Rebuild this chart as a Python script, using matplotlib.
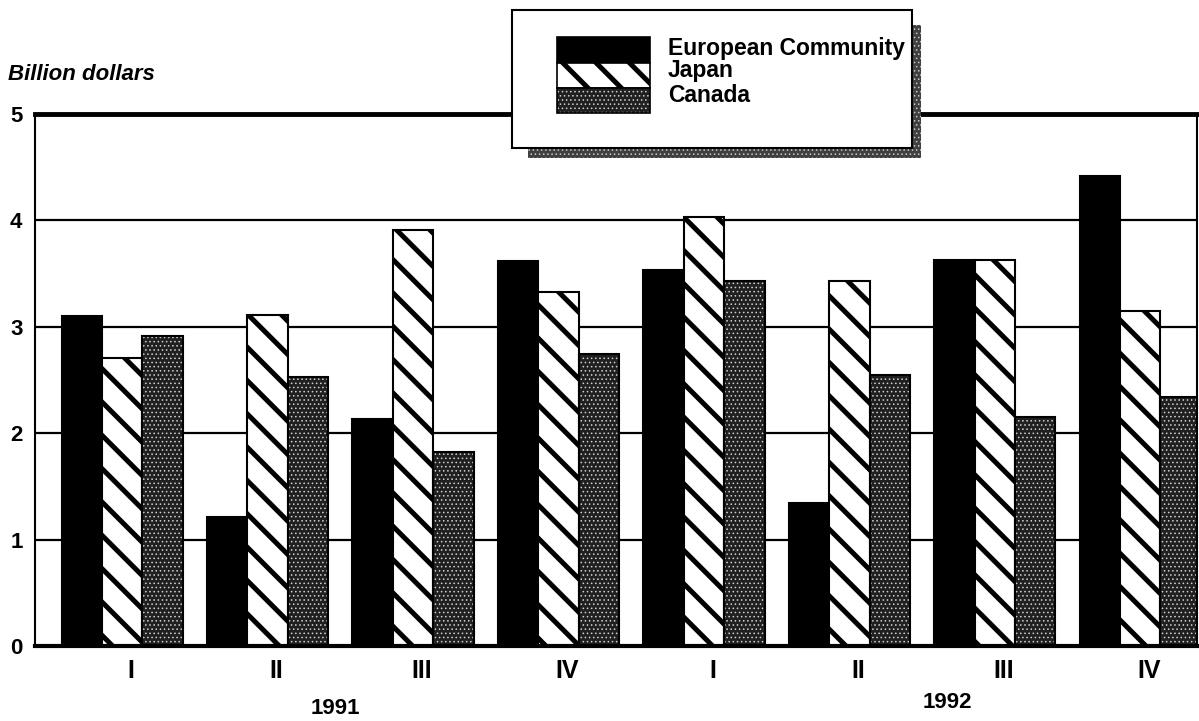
import matplotlib
matplotlib.use("Agg")
import matplotlib.pyplot as plt
from matplotlib.patches import Rectangle
import numpy as np

quarters = ["I", "II", "III", "IV", "I", "II", "III", "IV"]
years = ["1991", "1992"]
series_names = ["European Community", "Japan", "Canada"]
ec = [3.10, 1.21, 2.13, 3.62, 3.53, 1.34, 3.63, 4.42]
japan = [2.71, 3.11, 3.91, 3.33, 4.03, 3.43, 3.63, 3.15]
canada = [2.91, 2.53, 1.82, 2.74, 3.43, 2.55, 2.15, 2.34]
yticks = [0, 1, 2, 3, 4, 5]

plt.rcParams['font.family'] = ['Liberation Sans', 'DejaVu Sans']

STRIPE_LW = 3.6
DOT_LW = 0.6
DOT_FACE = '#202020'
DOT_COLOR = '#d0d0d0'

fig = plt.figure(figsize=(11.99, 7.21), dpi=100)
ax = fig.add_axes([35/1199, 75/721, (1197-35)/1199, (646-114)/721])

x = np.arange(len(quarters))
w = 0.278
for yv in yticks[1:5]:
    ax.axhline(yv, color='black', lw=1.6, zorder=0)

ax.bar(x - w, ec, width=w, color='black', edgecolor='black', lw=1.5, zorder=2)
with plt.rc_context({'hatch.linewidth': STRIPE_LW}):
    ax.bar(x, japan, width=w, color='white', edgecolor='black', hatch='\\', lw=1.5, zorder=2)
with plt.rc_context({'hatch.linewidth': DOT_LW}):
    ax.bar(x + w, canada, width=w, color=DOT_FACE, edgecolor=DOT_COLOR, hatch='....', lw=0, zorder=2)
ax.bar(x + w, canada, width=w, fill=False, edgecolor='black', lw=1.5, zorder=3)

ax.set_xlim(-0.6, 7.39)
ax.set_ylim(0, 5)
ax.set_yticks(yticks)
ax.set_yticklabels([str(v) for v in yticks], fontsize=16, fontweight='bold')
ax.tick_params(axis='y', length=0, pad=9)
ax.set_xticks(x + 0.06)
ax.set_xticklabels(quarters, fontsize=18, fontweight='bold')
ax.tick_params(axis='x', length=0, pad=9)
for s in ['left', 'right']:
    ax.spines[s].set_linewidth(1.5)
ax.spines['top'].set_linewidth(3.5)
ax.spines['bottom'].set_linewidth(3)

fig.text(8/1199, 1 - 75/721, "Billion dollars", fontsize=16, fontweight='bold',
         fontstyle='italic', va='center', ha='left')
fig.text(335/1199, 1 - 708/721, years[0], fontsize=16, fontweight='bold', ha='center', va='center')
fig.text(947/1199, 1 - 703/721, years[1], fontsize=16, fontweight='bold', ha='center', va='center')

def fr(x0, y0, x1, y1):
    return (x0/1199, 1 - y1/721), (x1 - x0)/1199, (y1 - y0)/721

with plt.rc_context({'hatch.linewidth': DOT_LW}):
    (p, wd, ht) = fr(528, 25, 921, 158)
    fig.patches.append(Rectangle(p, wd, ht, transform=fig.transFigure, facecolor='#404040',
                                 edgecolor='#c8c8c8', hatch='....', lw=0, zorder=5))
(p, wd, ht) = fr(512, 10, 912, 148)
fig.patches.append(Rectangle(p, wd, ht, transform=fig.transFigure, facecolor='white',
                             edgecolor='black', lw=1.5, zorder=6))
(p, wd, ht) = fr(557, 37, 650, 63)
fig.patches.append(Rectangle(p, wd, ht, transform=fig.transFigure, facecolor='black',
                             edgecolor='black', lw=1.2, zorder=7))
with plt.rc_context({'hatch.linewidth': STRIPE_LW}):
    (p, wd, ht) = fr(557, 63, 650, 88)
    fig.patches.append(Rectangle(p, wd, ht, transform=fig.transFigure, facecolor='white',
                                 edgecolor='black', hatch='\\', lw=1.2, zorder=7))
with plt.rc_context({'hatch.linewidth': DOT_LW}):
    (p, wd, ht) = fr(557, 88, 650, 113)
    fig.patches.append(Rectangle(p, wd, ht, transform=fig.transFigure, facecolor=DOT_FACE,
                                 edgecolor=DOT_COLOR, hatch='....', lw=0, zorder=7))
fig.patches.append(Rectangle(p, wd, ht, transform=fig.transFigure, fill=False,
                             edgecolor='black', lw=1.2, zorder=8))
for name, yy in zip(series_names, [48, 71, 96]):
    fig.text(668/1199, 1 - yy/721, name, fontsize=16.5, fontweight='bold', va='center',
             ha='left', zorder=9)

fig.savefig("out.png", dpi=100)
